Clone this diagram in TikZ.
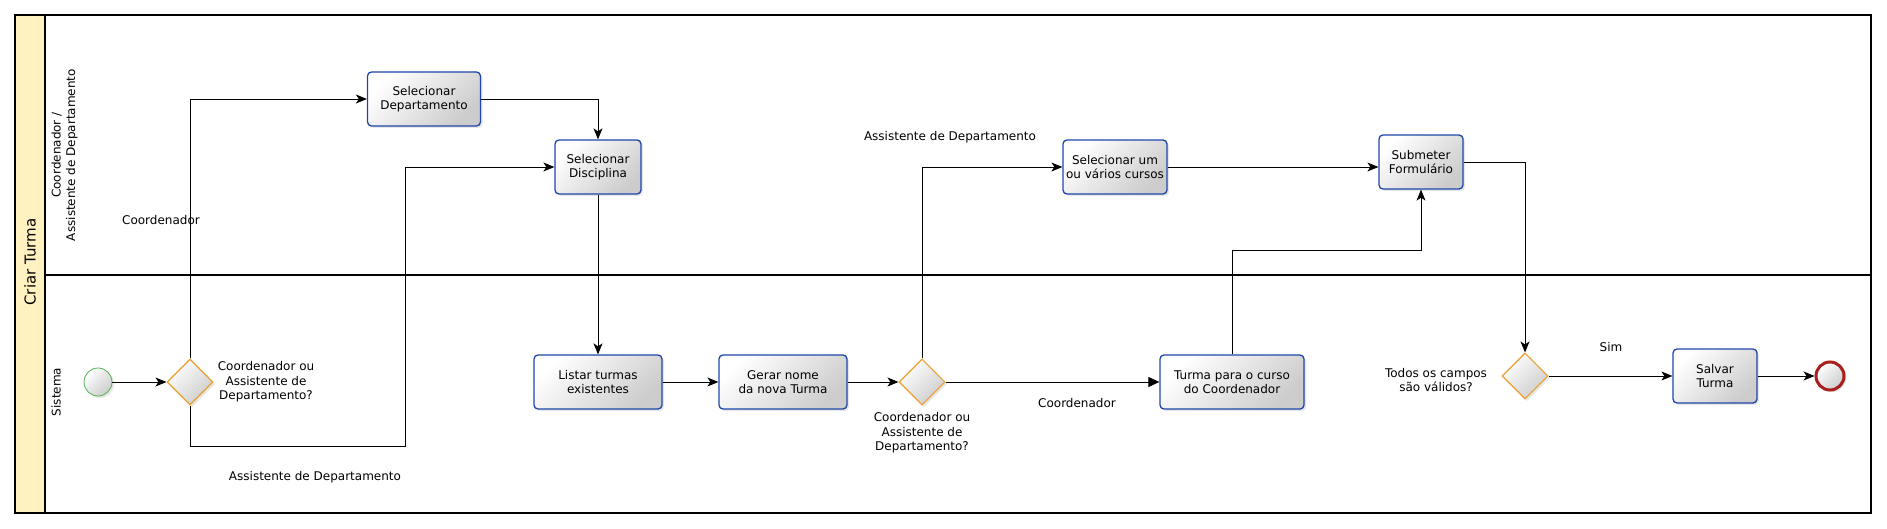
\documentclass[tikz,border=0pt]{standalone}
\usepackage{fontspec}
\setmainfont{DejaVu Sans}
\usepackage{tikz}
\usetikzlibrary{shapes.geometric,arrows.meta,shadows}

\definecolor{taskblue}{RGB}{30,70,170}
\definecolor{gworange}{RGB}{235,160,45}
\definecolor{poolyellow}{RGB}{255,242,192}
\definecolor{startgreen}{RGB}{80,180,80}
\definecolor{endred}{RGB}{170,30,30}

\begin{document}
\begin{tikzpicture}[x=1pt, y=-1pt, line width=0.8pt, >={Stealth[length=11pt,width=9pt,inset=3pt]},
    font=\fontsize{12}{14.5}\selectfont,
    task/.style={draw=taskblue, line width=1.3pt, rounded corners=4pt, top color=white, bottom color=black!20, shading angle=45,
        drop shadow={opacity=0.2, shadow xshift=2pt, shadow yshift=-2pt}, align=center, inner sep=0pt, minimum height=54pt},
    gate/.style={diamond, draw=gworange, line width=1.1pt, top color=white, bottom color=black!20, shading angle=45,
        drop shadow={opacity=0.2, shadow xshift=2pt, shadow yshift=-2pt}, minimum width=46pt, minimum height=46pt, inner sep=0pt},
    event/.style={circle, top color=white, bottom color=black!20, shading angle=45,
        drop shadow={opacity=0.2, shadow xshift=2pt, shadow yshift=-2pt}, minimum size=28pt, inner sep=0pt},
    lbl/.style={align=center}]
    \useasboundingbox (0,0) rectangle (1887,529);

    % pool and lanes
    \draw[line width=1.1pt] (15,15) rectangle (1871,513);
    \draw[line width=1.1pt, fill=poolyellow] (15,15) rectangle (45,513);
    \draw[line width=1.1pt] (45,275) -- (1871,275);
    \node[rotate=90, font=\fontsize{15}{18}\selectfont] (pool) at (30,262) {Criar Turma};
    \node[rotate=90, anchor=north, inner sep=0pt, lbl] (lane1) at (51,155) {Coordenador /\\Assistente de Departamento};
    \node[rotate=90, anchor=north, inner sep=0pt] (lane2) at (51,392) {Sistema};

    % tasks and gateways
    \node[event, draw=startgreen] (Inicio) at (98,382) {};
    \node[gate] (G1) at (190,382) {};
    \node[task, minimum width=113pt] (SelDep) at (424,99) {Selecionar\\Departamento};
    \node[task, minimum width=86pt] (SelDisc) at (598,167) {Selecionar\\Disciplina};
    \node[task, minimum width=128pt] (Listar) at (598,382) {Listar turmas\\existentes};
    \node[task, minimum width=128pt] (Gerar) at (783,382) {Gerar nome\\da nova Turma};
    \node[gate] (G2) at (922,382) {};
    \node[task, minimum width=104pt] (SelCursos) at (1115,167) {Selecionar um\\ou vários cursos};
    \node[task, minimum width=144pt] (TurmaCoord) at (1232,382) {Turma para o curso\\do Coordenador};
    \node[task, minimum width=84pt] (Submeter) at (1421,162) {Submeter\\Formulário};
    \node[gate] (G3) at (1525,376) {};
    \node[task, minimum width=84pt] (Salvar) at (1715,376) {Salvar\\Turma};
    \node[event, draw=endred, line width=3pt] (Fim) at (1830,376) {};

    % labels
    \node[lbl] (lG1) at (266,382) {Coordenador ou\\Assistente de\\Departamento?};
    \node (lCoord1) at (161,220) {Coordenador};
    \node (lAssist1) at (315,477) {Assistente de Departamento};
    \node[lbl] (lG2) at (922,433) {Coordenador ou\\Assistente de\\Departamento?};
    \node (lAssist2) at (950,137) {Assistente de Departamento};
    \node (lCoord2) at (1077,403) {Coordenador};
    \node[lbl] (lG3) at (1436,380) {Todos os campos\\são válidos?};
    \node (lSim) at (1611,347) {Sim};

    % flows
    \draw[->] (Inicio) -- (G1);
    \draw[->] (G1.north) |- (SelDep.west);
    \draw[->] (G1.south) |- (405,446) |- (SelDisc.west);
    \draw[->] (SelDep.east) -| (SelDisc.north);
    \draw[->] (SelDisc) -- (Listar);
    \draw[->] (Listar) -- (Gerar);
    \draw[->] (Gerar) -- (G2);
    \draw[->] (G2.north) |- (SelCursos.west);
    \draw[-{Triangle[length=11pt,width=10pt]}] (G2.east) -- (TurmaCoord.west);
    \draw[->] (SelCursos.east) -- (SelCursos.east -| Submeter.west);
    \draw[->] (TurmaCoord.north) -- ++(0,-104) -| (Submeter.south);
    \draw[->] (Submeter.east) -| (G3.north);
    \draw[->] (G3.east) -- (Salvar.west);
    \draw[->] (Salvar.east) -- (Fim.west);
\end{tikzpicture}
\end{document}
